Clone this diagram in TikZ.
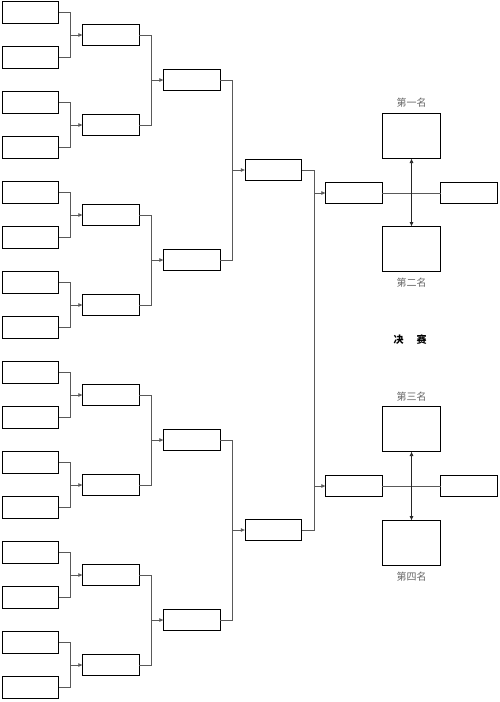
\documentclass[tikz,border=0pt]{standalone}
\usepackage{fontspec}
\newfontfamily\cjk{Noto Sans CJK SC}
\usetikzlibrary{arrows.meta}
\begin{document}
\begin{tikzpicture}[x=1pt,y=-1pt,
  box/.style={draw, line width=1.3pt, minimum width=56.5pt, minimum height=21.5pt, inner sep=0pt, outer sep=0pt},
  bigbox/.style={box, minimum width=57.5pt, minimum height=45pt},
  conn/.style={draw=black!65, line width=0.75pt},
  arr/.style={conn, -{Latex[length=4.5pt,width=4pt]}},
  dbl/.style={conn, draw=black!85, {Latex[length=4.5pt,width=4pt]}-{Latex[length=4.5pt,width=4pt]}},
  lab/.style={font=\cjk\fontsize{10pt}{12pt}\selectfont, text=black!60, inner sep=0pt}]
\useasboundingbox (0,0) rectangle (500,702);
% round 1
\foreach \k in {0,...,15} \node[box] (a\k) at (30.5, {12.5+45*\k}) {};
% round 2
\foreach \k in {0,...,7} \node[box] (b\k) at (111, {35+90*\k}) {};
% round 3
\foreach \k in {0,...,3} \node[box] (c\k) at (192, {80+180*\k}) {};
% round 4
\foreach \k in {0,1} \node[box] (d\k) at (273.5, {170+360*\k}) {};
% semifinal boxes
\node[box] (s0) at (354,193) {};
\node[box] (s1) at (354,486) {};
\node[box] (t0) at (469,193) {};
\node[box] (t1) at (469,486) {};
% place boxes
\node[bigbox] (p1) at (411.5,136) {};
\node[bigbox] (p2) at (411.5,249) {};
\node[bigbox] (p3) at (411.5,429) {};
\node[bigbox] (p4) at (411.5,543) {};
% labels
\node[lab] (l1) at (411.5,103) {第一名};
\node[lab] (l2) at (411.5,283) {第二名};
\node[lab] (l3) at (411.5,397) {第三名};
\node[lab] (l4) at (411.5,577) {第四名};
\node[inner sep=0pt, font=\cjk\bfseries\fontsize{10pt}{12pt}\selectfont] (title) at (410,340) {决\hspace{13pt}赛};
% connectors round 1 -> 2
\foreach \k [evaluate=\k as \i using {int(2*\k)}, evaluate=\k as \j using {int(2*\k+1)}] in {0,...,7} {
  \draw[conn] (a\i.east) -- ++(12,0) |- (a\j.east);
  \draw[arr] (a\i.east) ++(12,0) |- (b\k.west);
}
% round 2 -> 3
\foreach \k [evaluate=\k as \i using {int(2*\k)}, evaluate=\k as \j using {int(2*\k+1)}] in {0,...,3} {
  \draw[conn] (b\i.east) -- ++(12,0) |- (b\j.east);
  \draw[arr] (b\i.east) ++(12,0) |- (c\k.west);
}
% round 3 -> 4
\foreach \k [evaluate=\k as \i using {int(2*\k)}, evaluate=\k as \j using {int(2*\k+1)}] in {0,1} {
  \draw[conn] (c\i.east) -- ++(12,0) |- (c\j.east);
  \draw[arr] (c\i.east) ++(12,0) |- (d\k.west);
}
% round 4 -> semifinals
\draw[conn] (d0.east) -- ++(13,0) |- (d1.east);
\draw[arr] (d0.east) ++(13,0) |- (s0.west);
\draw[arr] (d0.east) ++(13,0) |- (s1.west);
% finals
\draw[conn] (s0.east) -- (t0.west);
\draw[conn] (s1.east) -- (t1.west);
\draw[dbl] (p1.south) -- (p2.north);
\draw[dbl] (p3.south) -- (p4.north);
\end{tikzpicture}
\end{document}
